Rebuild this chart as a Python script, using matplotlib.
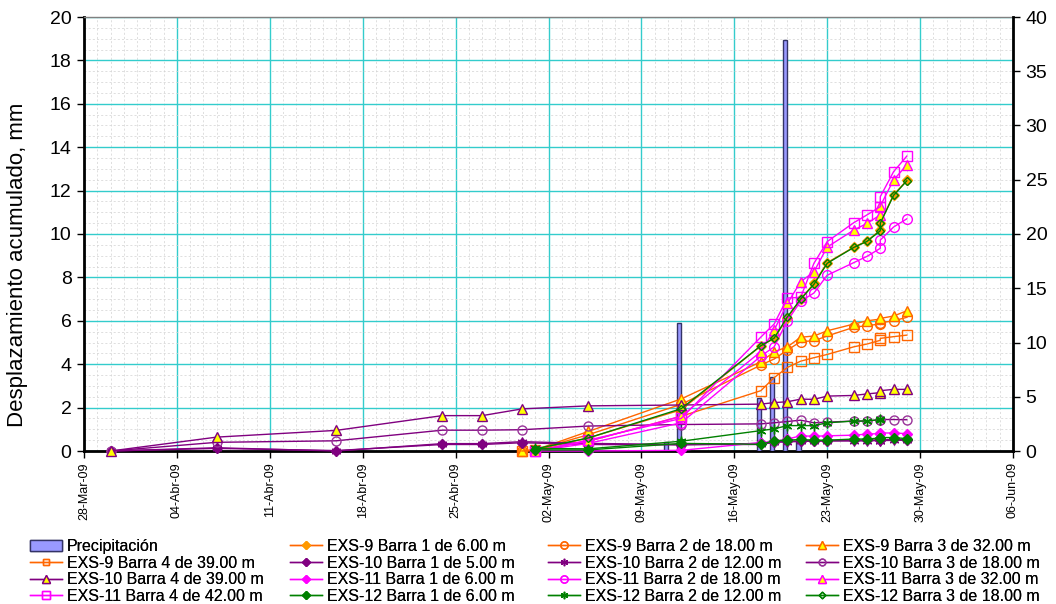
import datetime as dt

import matplotlib
matplotlib.use("Agg")
import matplotlib.dates as mdates
import matplotlib.pyplot as plt
from matplotlib.lines import Line2D
from matplotlib.patches import Patch
from matplotlib.ticker import FuncFormatter, MultipleLocator

plt.rcParams["font.family"] = ["Liberation Sans", "DejaVu Sans"]

# Lecturas comunes de la segunda quincena de mayo (dos lecturas el 27)
TARDE = ["2009-05-18", "2009-05-19", "2009-05-20", "2009-05-21", "2009-05-22",
         "2009-05-23", "2009-05-25", "2009-05-26", "2009-05-27", "2009-05-27",
         "2009-05-28", "2009-05-29"]

fechas_exs9 = ["2009-04-30", "2009-05-01", "2009-05-05", "2009-05-12"] + TARDE
fechas_exs10 = ["2009-03-30", "2009-04-07", "2009-04-16", "2009-04-24", "2009-04-27",
                "2009-04-30", "2009-05-05", "2009-05-12"] + TARDE
fechas_exs11 = ["2009-05-01", "2009-05-05", "2009-05-12"] + TARDE
fechas_exs12 = ["2009-05-01", "2009-05-05", "2009-05-12"] + TARDE
fechas_exs12_b2 = ["2009-05-01", "2009-05-05", "2009-05-12"] + TARDE[:10]

exs9_b1 = [0.0, 0.05, 0.60, 1.90, 4.84, 5.19, 6.12, 7.00, 7.72, 8.68, 9.39, 9.68, 10.18, 10.52, 11.80, 12.47]
exs9_b2 = [0.0, 0.05, 0.75, 2.15, 3.96, 4.24, 4.65, 5.04, 5.08, 5.30, 5.70, 5.78, 5.85, 5.91, 6.00, 6.16]
exs9_b3 = [0.0, 0.05, 0.90, 2.40, 4.11, 4.57, 4.80, 5.24, 5.30, 5.54, 5.85, 6.00, 6.08, 6.11, 6.22, 6.46]
exs9_b4 = [0.0, 0.03, 0.45, 1.60, 2.78, 3.38, 3.85, 4.14, 4.30, 4.45, 4.80, 4.93, 5.10, 5.19, 5.27, 5.34]

exs10_b1 = [0.0, 0.12, 0.02, 0.30, 0.30, 0.38, 0.30, 0.28, 0.35, 0.42, 0.45, 0.47, 0.47, 0.48, 0.50, 0.50, 0.52, 0.52, 0.53, 0.52]
exs10_b2 = [0.0, 0.15, 0.0, 0.34, 0.34, 0.43, 0.35, 0.30, 0.30, 0.40, 0.42, 0.44, 0.45, 0.46, 0.46, 0.47, 0.48, 0.48, 0.49, 0.50]
exs10_b3 = [0.0, 0.40, 0.47, 0.96, 0.96, 0.98, 1.15, 1.22, 1.25, 1.30, 1.36, 1.42, 1.30, 1.33, 1.38, 1.38, 1.45, 1.45, 1.45, 1.44]
exs10_b4 = [0.0, 0.64, 0.95, 1.63, 1.63, 1.94, 2.08, 2.12, 2.16, 2.23, 2.27, 2.39, 2.38, 2.53, 2.56, 2.63, 2.69, 2.78, 2.84, 2.84]

exs11_b1 = [0.0, 0.0, 0.03, 0.39, 0.44, 0.55, 0.70, 0.68, 0.70, 0.73, 0.78, 0.80, 0.83, 0.83, 0.80]
exs11_b2 = [0.0, 0.35, 1.30, 4.37, 4.80, 6.00, 6.90, 7.28, 8.10, 8.68, 8.97, 9.34, 9.72, 10.32, 10.70]
exs11_b3 = [0.0, 0.45, 1.60, 4.58, 5.57, 6.80, 7.80, 8.26, 9.40, 10.18, 10.49, 10.88, 11.29, 12.49, 13.18]
exs11_b4 = [0.0, 0.50, 1.50, 5.25, 5.85, 7.05, 7.08, 8.65, 9.65, 10.52, 10.88, 11.26, 11.72, 12.87, 13.59]

exs12_b1 = [0.05, 0.05, 0.35, 0.31, 0.47, 0.50, 0.53, 0.50, 0.50, 0.55, 0.55, 0.60, 0.62, 0.62, 0.57]
exs12_b2 = [0.12, 0.10, 0.45, 0.94, 1.02, 1.17, 1.17, 1.17, 1.30, 1.38, 1.38, 1.45, 1.48]
exs12_b3 = [0.10, 0.60, 1.95, 4.85, 5.20, 6.18, 7.00, 7.68, 8.65, 9.38, 9.66, 10.15, 10.50, 11.78, 12.45]

fechas_lluvia = ["2009-05-11", "2009-05-12", "2009-05-18", "2009-05-19", "2009-05-20", "2009-05-21"]
lluvia = [0.8, 11.8, 4.9, 6.8, 37.9, 0.9]

MESES = ["Ene", "Feb", "Mar", "Abr", "May", "Jun", "Jul", "Ago", "Sep", "Oct", "Nov", "Dic"]

NARANJA = "#FF6600"
MORADO = "#800080"
MAGENTA = "#FF00FF"
VERDE = "#008000"
AMARILLO = "#FFFF00"
ASTERISCO = (6, 2, 0)


def fechas(lista):
    return [dt.datetime.strptime(s, "%Y-%m-%d") for s in lista]


def etiqueta_fecha(valor, _pos):
    f = mdates.num2date(valor)
    return f"{f.day:02d}-{MESES[f.month - 1]}-{f.year % 100:02d}"


# (etiqueta, fechas, valores, color línea, marcador, relleno, borde, tamaño)
series = [
    ("EXS-9 Barra 1 de 6.00 m", fechas_exs9, exs9_b1, NARANJA, "D", "#FF9900", "#FF9900", 5.5),
    ("EXS-9 Barra 2 de 18.00 m", fechas_exs9, exs9_b2, NARANJA, "o", "none", NARANJA, 7),
    ("EXS-9 Barra 3 de 32.00 m", fechas_exs9, exs9_b3, NARANJA, "^", AMARILLO, NARANJA, 7),
    ("EXS-9 Barra 4 de 39.00 m", fechas_exs9, exs9_b4, NARANJA, "s", "none", NARANJA, 6.5),
    ("EXS-10 Barra 1 de 5.00 m", fechas_exs10, exs10_b1, MORADO, "D", MORADO, MORADO, 5),
    ("EXS-10 Barra 2 de 12.00 m", fechas_exs10, exs10_b2, MORADO, ASTERISCO, MORADO, MORADO, 7),
    ("EXS-10 Barra 3 de 18.00 m", fechas_exs10, exs10_b3, MORADO, "o", "none", "#993399", 6.5),
    ("EXS-10 Barra 4 de 39.00 m", fechas_exs10, exs10_b4, MORADO, "^", AMARILLO, MORADO, 7),
    ("EXS-11 Barra 1 de 6.00 m", fechas_exs11, exs11_b1, MAGENTA, "D", MAGENTA, MAGENTA, 5),
    ("EXS-11 Barra 2 de 18.00 m", fechas_exs11, exs11_b2, MAGENTA, "o", "none", MAGENTA, 7),
    ("EXS-11 Barra 3 de 32.00 m", fechas_exs11, exs11_b3, MAGENTA, "^", AMARILLO, MAGENTA, 7),
    ("EXS-11 Barra 4 de 42.00 m", fechas_exs11, exs11_b4, MAGENTA, "s", "none", MAGENTA, 7),
    ("EXS-12 Barra 1 de 6.00 m", fechas_exs12, exs12_b1, VERDE, "D", VERDE, VERDE, 5),
    ("EXS-12 Barra 2 de 12.00 m", fechas_exs12_b2, exs12_b2, VERDE, ASTERISCO, VERDE, VERDE, 7),
    ("EXS-12 Barra 3 de 18.00 m", fechas_exs12, exs12_b3, VERDE, "D", "none", VERDE, 4.5),
]

fig = plt.figure(figsize=(10.56, 6.04), dpi=100)
pos = [84 / 1056, 1 - 451 / 604, 929 / 1056, 434 / 604]

# Eje base: rejilla y ejes principales
ax = fig.add_axes(pos)
x0 = dt.datetime(2009, 3, 28)
x1 = dt.datetime(2009, 6, 6)
ax.set_xlim(x0, x1)
ax.set_ylim(0, 20)
ax.set_xticks([x0 + dt.timedelta(days=7 * k) for k in range(11)])
ax.xaxis.set_minor_locator(mdates.DayLocator())
ax.xaxis.set_major_formatter(FuncFormatter(etiqueta_fecha))
ax.yaxis.set_major_locator(MultipleLocator(2))
ax.yaxis.set_minor_locator(MultipleLocator(0.5))
ax.grid(which="major", color="#33CCCC", linewidth=1.0)
ax.grid(which="minor", color="#D2D2D2", linewidth=0.5, linestyle=(0, (3, 3)))
ax.set_axisbelow(True)
ax.tick_params(axis="x", which="major", direction="out", length=5, width=1, labelsize=9,
               labelrotation=90, pad=3)
ax.tick_params(axis="y", which="major", direction="out", length=5, width=1, labelsize=14, pad=4)
ax.tick_params(which="minor", length=0)
ax.set_ylabel("Desplazamiento acumulado, mm", fontsize=16)
ax.yaxis.set_label_coords(-0.060, 0.43)
for lado in ("left", "bottom"):
    ax.spines[lado].set_linewidth(2)
    ax.spines[lado].set_color("black")
ax.spines["top"].set_color("#808080")
ax.spines["top"].set_linewidth(1)
ax.spines["right"].set_visible(False)

# Precipitación en el eje secundario
axb = ax.twinx()
axb.set_ylim(0, 40)
axb.yaxis.set_major_locator(MultipleLocator(5))
axb.bar(fechas(fechas_lluvia), lluvia, width=-0.32, color="#9999FF", edgecolor="#333366",
        linewidth=1.0, align="edge")
axb.tick_params(axis="y", direction="out", length=5, width=1, labelsize=14, pad=4)
axb.spines["right"].set_linewidth(2)
axb.spines["right"].set_color("black")
for lado in ("left", "top", "bottom"):
    axb.spines[lado].set_visible(False)
axb.patch.set_visible(False)

# Desplazamientos por encima de las barras
axl = fig.add_axes(pos, sharex=ax, sharey=ax)
axl.patch.set_visible(False)
axl.axis("off")
for etiqueta, f, v, color, marca, relleno, borde, tam in series:
    axl.plot(fechas(f), v, color=color, linewidth=1.0, marker=marca, markersize=tam,
             markerfacecolor=relleno, markeredgecolor=borde, markeredgewidth=1.0,
             clip_on=False)
axl.set_xlim(x0, x1)
axl.set_ylim(0, 20)

# Leyenda en cuatro columnas, llenada por filas
entradas = [(Patch(facecolor="#9999FF", edgecolor="#333366", linewidth=1.0), "Precipitación")]
for etiqueta, f, v, color, marca, relleno, borde, tam in series:
    h = Line2D([], [], color=color, linewidth=1.0, marker=marca, markersize=tam * 0.75,
               markerfacecolor=relleno, markeredgecolor=borde, markeredgewidth=1.0)
    entradas.append((h, etiqueta))

columnas_x = [30, 290, 548, 806]
for j, xc in enumerate(columnas_x):
    grupo = entradas[j::4]
    leg = fig.legend([h for h, _ in grupo], [t for _, t in grupo], loc="upper left",
                     bbox_to_anchor=(xc / 1056, 1 - 539 / 604), frameon=False,
                     fontsize=11.5, handlelength=2.0, handletextpad=0.3,
                     labelspacing=0.1, borderpad=0, borderaxespad=0)
    fig.add_artist(leg)

fig.savefig("out.png", dpi=100)
